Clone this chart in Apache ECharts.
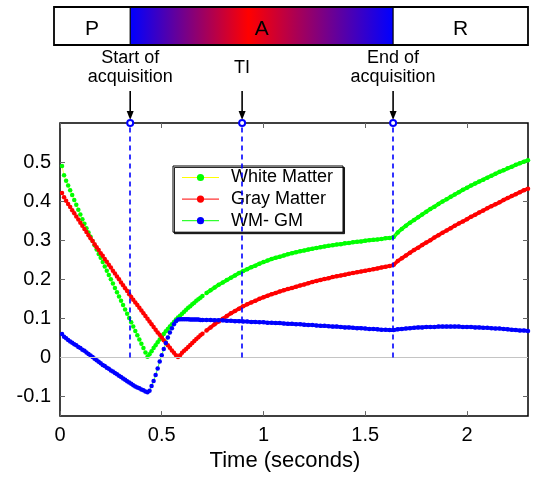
<!DOCTYPE html>
<html>
<head>
<meta charset="utf-8">
<script src="https://cdn.jsdelivr.net/npm/echarts@6/dist/echarts.min.js"></script>
<style>
  html, body { margin: 0; padding: 0; background: #fff; }
  #chart { width: 536px; height: 477px; }
</style>
</head>
<body>
<div id="chart"></div>
<script>
const FONT = '"Liberation Sans", Arial, sans-serif';

// time samples (s): 0.01 step while the curves move fast, 0.02 step after
const time = [
  0.01, 0.02, 0.03, 0.04, 0.05, 0.06, 0.07, 0.08, 0.09, 0.10,
  0.11, 0.12, 0.13, 0.14, 0.15, 0.16, 0.17, 0.18, 0.19, 0.20,
  0.21, 0.22, 0.23, 0.24, 0.25, 0.26, 0.27, 0.28, 0.29, 0.30,
  0.31, 0.32, 0.33, 0.34, 0.35, 0.36, 0.37, 0.38, 0.39, 0.40,
  0.41, 0.42, 0.43, 0.44, 0.45, 0.46, 0.47, 0.48, 0.49, 0.50,
  0.51, 0.52, 0.53, 0.54, 0.55, 0.56, 0.57, 0.58, 0.59, 0.60,
  0.61, 0.62, 0.63, 0.64, 0.65, 0.66, 0.67, 0.68, 0.69, 0.70,
  0.72, 0.74, 0.76, 0.78, 0.80, 0.82, 0.84, 0.86, 0.88, 0.90,
  0.92, 0.94, 0.96, 0.98, 1.00, 1.02, 1.04, 1.06, 1.08, 1.10,
  1.12, 1.14, 1.16, 1.18, 1.20, 1.22, 1.24, 1.26, 1.28, 1.30,
  1.32, 1.34, 1.36, 1.38, 1.40, 1.42, 1.44, 1.46, 1.48, 1.50,
  1.52, 1.54, 1.56, 1.58, 1.60, 1.62, 1.64, 1.66, 1.68, 1.70,
  1.72, 1.74, 1.76, 1.78, 1.80, 1.82, 1.84, 1.86, 1.88, 1.90,
  1.92, 1.94, 1.96, 1.98, 2.00, 2.02, 2.04, 2.06, 2.08, 2.10,
  2.12, 2.14, 2.16, 2.18, 2.20, 2.22, 2.24, 2.26, 2.28, 2.30
];

const whiteMatter = [
  0.490, 0.466, 0.452, 0.440, 0.428, 0.416, 0.403, 0.391, 0.378, 0.366,
  0.354, 0.342, 0.331, 0.320, 0.309, 0.298, 0.287, 0.276, 0.265, 0.255,
  0.244, 0.233, 0.222, 0.211, 0.200, 0.189, 0.178, 0.167, 0.156, 0.145,
  0.134, 0.123, 0.112, 0.101, 0.090, 0.079, 0.068, 0.057, 0.046, 0.035,
  0.024, 0.013, 0.002, 0.008, 0.016, 0.024, 0.031, 0.039, 0.046, 0.053,
  0.060, 0.067, 0.073, 0.079, 0.085, 0.091, 0.097, 0.102, 0.107, 0.112,
  0.117, 0.122, 0.127, 0.131, 0.136, 0.140, 0.145, 0.149, 0.153, 0.157,
  0.165, 0.172, 0.179, 0.186, 0.192, 0.198, 0.204, 0.210, 0.216, 0.221,
  0.226, 0.231, 0.235, 0.240, 0.244, 0.248, 0.252, 0.255, 0.258, 0.261,
  0.264, 0.267, 0.269, 0.272, 0.274, 0.276, 0.278, 0.280, 0.282, 0.284,
  0.286, 0.287, 0.289, 0.290, 0.292, 0.293, 0.295, 0.296, 0.297, 0.299,
  0.300, 0.301, 0.302, 0.303, 0.305, 0.306, 0.308, 0.320, 0.329, 0.337,
  0.345, 0.352, 0.359, 0.366, 0.373, 0.380, 0.386, 0.393, 0.399, 0.405,
  0.411, 0.417, 0.423, 0.429, 0.434, 0.440, 0.445, 0.450, 0.455, 0.460,
  0.465, 0.470, 0.475, 0.479, 0.484, 0.488, 0.493, 0.497, 0.501, 0.505
];

const grayMatter = [
  0.421, 0.410, 0.401, 0.393, 0.385, 0.377, 0.369, 0.361, 0.353, 0.345,
  0.337, 0.329, 0.321, 0.313, 0.305, 0.298, 0.290, 0.282, 0.275, 0.267,
  0.260, 0.252, 0.245, 0.237, 0.230, 0.222, 0.215, 0.207, 0.200, 0.192,
  0.185, 0.177, 0.170, 0.162, 0.155, 0.148, 0.141, 0.134, 0.127, 0.120,
  0.113, 0.106, 0.099, 0.092, 0.085, 0.078, 0.071, 0.064, 0.058, 0.051,
  0.044, 0.038, 0.031, 0.025, 0.018, 0.012, 0.006, 0.001, 0.006, 0.012,
  0.017, 0.022, 0.027, 0.032, 0.037, 0.042, 0.047, 0.052, 0.057, 0.061,
  0.069, 0.077, 0.085, 0.092, 0.099, 0.106, 0.113, 0.119, 0.125, 0.131,
  0.136, 0.141, 0.145, 0.150, 0.154, 0.158, 0.162, 0.165, 0.169, 0.172,
  0.175, 0.178, 0.181, 0.184, 0.187, 0.190, 0.193, 0.196, 0.198, 0.201,
  0.203, 0.206, 0.208, 0.210, 0.212, 0.214, 0.216, 0.218, 0.220, 0.222,
  0.224, 0.226, 0.228, 0.230, 0.232, 0.234, 0.237, 0.247, 0.254, 0.261,
  0.268, 0.275, 0.281, 0.288, 0.294, 0.300, 0.307, 0.313, 0.319, 0.325,
  0.331, 0.337, 0.343, 0.348, 0.354, 0.360, 0.365, 0.371, 0.376, 0.382,
  0.387, 0.392, 0.397, 0.403, 0.408, 0.413, 0.418, 0.423, 0.428, 0.432
];

const wmMinusGm = [
  0.060, 0.053, 0.049, 0.045, 0.041, 0.038, 0.034, 0.031, 0.027, 0.024,
  0.020, 0.017, 0.013, 0.009, 0.005, 0.001, -0.003, -0.007, -0.011, -0.015,
  -0.019, -0.022, -0.026, -0.029, -0.033, -0.036, -0.040, -0.043, -0.047, -0.050,
  -0.054, -0.057, -0.061, -0.064, -0.067, -0.071, -0.074, -0.077, -0.079, -0.082,
  -0.084, -0.087, -0.089, -0.085, -0.073, -0.060, -0.045, -0.028, -0.010, 0.006,
  0.022, 0.037, 0.051, 0.064, 0.075, 0.085, 0.093, 0.097, 0.098, 0.098,
  0.098, 0.098, 0.098, 0.097, 0.097, 0.097, 0.097, 0.097, 0.096, 0.096,
  0.096, 0.096, 0.095, 0.095, 0.095, 0.094, 0.094, 0.093, 0.093, 0.092,
  0.092, 0.091, 0.091, 0.090, 0.090, 0.089, 0.089, 0.088, 0.088, 0.087,
  0.086, 0.086, 0.085, 0.085, 0.084, 0.083, 0.083, 0.082, 0.081, 0.081,
  0.080, 0.079, 0.079, 0.078, 0.077, 0.077, 0.076, 0.075, 0.075, 0.074,
  0.073, 0.073, 0.072, 0.071, 0.071, 0.070, 0.070, 0.072, 0.073, 0.074,
  0.075, 0.076, 0.077, 0.077, 0.078, 0.078, 0.078, 0.079, 0.079, 0.079,
  0.079, 0.079, 0.079, 0.078, 0.078, 0.078, 0.077, 0.077, 0.076, 0.076,
  0.075, 0.074, 0.074, 0.073, 0.072, 0.071, 0.070, 0.069, 0.069, 0.068
];

const seriesNames = ['White Matter', 'Gray Matter', 'WM- GM'];
const xTicks = [0, 0.5, 1, 1.5, 2];
const yTicks = [-0.1, 0, 0.1, 0.2, 0.3, 0.4, 0.5];
const eventTimes = [0.345, 0.895, 1.637];
const eventLabels = ['Start of\nacquisition', 'TI', 'End of\nacquisition'];
const phaseLabels = ['P', 'A', 'R'];

const X_MAX = 2.3;
const Y_MIN = -0.15;
const Y_MAX = 0.6;

const pts = (ys) => time.map((t, i) => [t, ys[i]]);

// dots in one colour, thin joining line in another (as the matlab legend shows)
function curve(name, ys, dot, line) {
  return {
    name,
    type: 'line',
    data: pts(ys),
    symbol: 'circle',
    symbolSize: 4.5,
    showAllSymbol: true,
    itemStyle: { color: dot },
    lineStyle: { color: line, width: 0.7 },
    emphasis: { disabled: true },
    silent: true,
  };
}

// where samples sit close together the dots merge into a solid band
function band(ys, color, fromT) {
  return {
    type: 'line',
    data: pts(ys).filter((p) => p[0] >= fromT),
    symbol: 'none',
    lineStyle: { color, width: 3.6 },
    emphasis: { disabled: true },
    silent: true,
  };
}

const blue = curve(seriesNames[2], wmMinusGm, '#0000ff', '#00ff00');
blue.markLine = {
  silent: true,
  animation: false,
  label: { show: false },
  symbol: 'none',
  data: [
    [{ coord: [0, 0], lineStyle: { color: '#c4c4c4', width: 1.2, type: 'solid' } }, { coord: [X_MAX, 0] }],
  ].concat(eventTimes.map((t) => [
    { coord: [t, 0], symbol: 'none', lineStyle: { color: '#0000ff', width: 1.6, type: [5, 4] } },
    { coord: [t, Y_MAX], symbol: 'emptyCircle', symbolSize: 6 },
  ])),
};

const tickStyle = { inside: true, length: 5, lineStyle: { color: '#666', width: 1 } };
const noLine = { show: false, onZero: false };

const option = {
  animation: false,
  backgroundColor: '#fff',
  textStyle: { fontFamily: FONT },
  grid: {
    left: 60, right: 8, top: 123, bottom: 58,
    show: true, borderColor: '#000', borderWidth: 1.5, backgroundColor: 'transparent',
  },
  legend: {
    orient: 'vertical',
    left: 173,
    top: 166,
    itemWidth: 37,
    itemHeight: 9,
    itemGap: 3.6,
    padding: [2.5, 10, 2.5, 8.5],
    selectedMode: false,
    backgroundColor: '#fff',
    borderColor: '#000',
    borderWidth: 1,
    shadowColor: 'rgba(0,0,0,0.85)',
    shadowOffsetX: 1.5,
    shadowOffsetY: 1.5,
    lineStyle: { width: 1 },
    textStyle: { fontFamily: FONT, fontSize: 18, color: '#000', padding: [0, 0, 0, 7] },
    data: seriesNames,
  },
  xAxis: [
    {
      type: 'value', min: 0, max: X_MAX,
      axisLine: noLine,
      splitLine: { show: false },
      axisTick: Object.assign({ customValues: xTicks }, tickStyle),
      axisLabel: { customValues: xTicks, fontFamily: FONT, fontSize: 20, color: '#000', margin: 9 },
      name: 'Time (seconds)',
      nameLocation: 'middle',
      nameGap: 30,
      nameTextStyle: { fontFamily: FONT, fontSize: 22, color: '#000', padding: [0, 18, 0, 0] },
    },
    {
      type: 'value', min: 0, max: X_MAX, position: 'top',
      axisLine: noLine,
      splitLine: { show: false },
      axisTick: Object.assign({ customValues: xTicks }, tickStyle),
      axisLabel: { show: false },
    },
  ],
  yAxis: [
    {
      type: 'value', min: Y_MIN, max: Y_MAX,
      axisLine: noLine,
      splitLine: { show: false },
      axisTick: Object.assign({ customValues: yTicks }, tickStyle),
      axisLabel: { customValues: yTicks, fontFamily: FONT, fontSize: 20, color: '#000', margin: 9 },
    },
    {
      type: 'value', min: Y_MIN, max: Y_MAX, position: 'right',
      axisLine: noLine,
      splitLine: { show: false },
      axisTick: Object.assign({ customValues: yTicks }, tickStyle),
      axisLabel: { show: false },
    },
  ],
  series: [
    band(whiteMatter, '#00ff00', 0.72),
    band(grayMatter, '#ff0000', 0.72),
    band(wmMinusGm, '#0000ff', 0.6),
    curve(seriesNames[0], whiteMatter, '#00ff00', '#ffff00'),
    curve(seriesNames[1], grayMatter, '#ff0000', '#ff0000'),
    blue,
  ],
};

const chart = echarts.init(document.getElementById('chart'));
chart.setOption(option);

// P / A / R bar and the arrows above the plot, placed from the x axis
const toX = (t) => chart.convertToPixel({ xAxisIndex: 0 }, t);
const ev = eventTimes.map(toX);
const barLeft = toX(0) - 6;
const barRight = toX(X_MAX);
const barTop = 7;
const barH = 38;
const txt = (text, x, y, size, lh) => ({
  type: 'text',
  style: {
    text, x, y,
    align: 'center', verticalAlign: 'middle',
    textAlign: 'center', textVerticalAlign: 'middle',
    font: size + 'px ' + FONT, lineHeight: lh || size, fill: '#000',
  },
  silent: true,
});

const graphic = [
  { type: 'rect', shape: { x: barLeft, y: barTop, width: ev[0] - barLeft, height: barH }, style: { fill: '#fff' } },
  {
    type: 'rect',
    shape: { x: ev[0], y: barTop, width: ev[2] - ev[0], height: barH },
    style: {
      fill: new echarts.graphic.LinearGradient(0, 0, 1, 0, [
        { offset: 0, color: '#0000ff' },
        { offset: 0.45, color: '#ff0000' },
        { offset: 1, color: '#0000ff' },
      ]),
    },
  },
  { type: 'rect', shape: { x: ev[2], y: barTop, width: barRight - ev[2], height: barH }, style: { fill: '#fff' } },
  { type: 'rect', shape: { x: barLeft, y: barTop, width: barRight - barLeft, height: barH }, style: { fill: 'none', stroke: '#000', lineWidth: 1.8 } },
  { type: 'line', shape: { x1: ev[0], y1: barTop, x2: ev[0], y2: barTop + barH }, style: { stroke: '#000', lineWidth: 1.2 } },
  { type: 'line', shape: { x1: ev[2], y1: barTop, x2: ev[2], y2: barTop + barH }, style: { stroke: '#000', lineWidth: 1.2 } },
  txt(phaseLabels[0], (barLeft + ev[0]) / 2, 29, 21),
  txt(phaseLabels[1], (ev[0] + ev[2]) / 2, 29, 21),
  txt(phaseLabels[2], (ev[2] + barRight) / 2, 29, 21),
];
ev.forEach((x, i) => {
  graphic.push(txt(eventLabels[i], x, 68, 18, 19));
  graphic.push({ type: 'line', shape: { x1: x, y1: 91, x2: x, y2: 113 }, style: { stroke: '#000', lineWidth: 1.6 } });
  graphic.push({ type: 'polygon', shape: { points: [[x - 3.5, 111], [x + 3.5, 111], [x, 120]] }, style: { fill: '#000' } });
});
chart.setOption({ graphic });
</script>
</body>
</html>
